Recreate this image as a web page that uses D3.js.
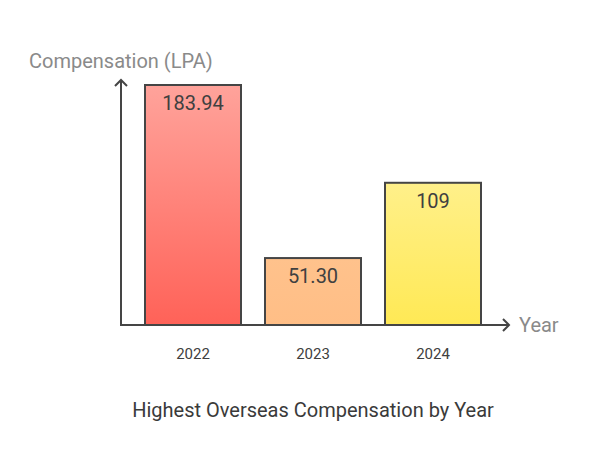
<!DOCTYPE html>
<html><head><meta charset="utf-8">
<script src="https://cdn.jsdelivr.net/npm/d3@7"></script>
<style>body{margin:0;background:#fff;font-family:Roboto,"Noto Sans",sans-serif}</style>
</head><body><svg id="c" width="590" height="470"></svg>
<script>
const years = ["2022","2023","2024"];
const values = [183.94, 51.30, 109];
const valueLabels = ["183.94","51.30","109"];
const topColors = ["#ffa39b","#ffc28c","#fff08a"];
const bottomColors = ["#ff6258","#ffbe86","#ffe955"];

const svg = d3.select("#c");
const x0 = 121, y0 = 325;
const x = d3.scaleBand().domain(years).range([133, 493]).paddingInner(0.2).paddingOuter(0.1);
const y = d3.scaleLinear().domain([0, 183.94]).range([y0, 85]);

const defs = svg.append("defs");
years.forEach((yr, i) => {
  const g = defs.append("linearGradient").attr("id", "g" + i).attr("x1", 0).attr("x2", 0).attr("y1", 0).attr("y2", 1);
  g.append("stop").attr("offset", "0%").attr("stop-color", topColors[i]);
  g.append("stop").attr("offset", "100%").attr("stop-color", bottomColors[i]);
});

svg.selectAll("rect.bar").data(values).enter().append("rect")
  .attr("class", "bar")
  .attr("x", (d, i) => x(years[i]))
  .attr("y", d => y(d))
  .attr("width", x.bandwidth())
  .attr("height", d => y0 - y(d))
  .attr("fill", (d, i) => `url(#g${i})`)
  .attr("stroke", "#454545").attr("stroke-width", 2);

svg.selectAll("text.val").data(values).enter().append("text")
  .attr("x", (d, i) => x(years[i]) + x.bandwidth() / 2)
  .attr("y", d => y(d) + 25)
  .attr("text-anchor", "middle")
  .attr("font-size", 20).attr("fill", "#404040")
  .text((d, i) => valueLabels[i]);

// axes
const axisColor = "#454545";
svg.append("line").attr("x1", x0).attr("y1", y0).attr("x2", x0).attr("y2", 80).attr("stroke", axisColor).attr("stroke-width", 2);
svg.append("path").attr("d", `M${x0-6},${86} L${x0},${80} L${x0+6},${86}`).attr("fill", "none").attr("stroke", axisColor).attr("stroke-width", 2);
svg.append("line").attr("x1", x0 - 1).attr("y1", y0).attr("x2", 509).attr("y2", y0).attr("stroke", axisColor).attr("stroke-width", 2);
svg.append("path").attr("d", `M${503},${y0-6} L${509},${y0} L${503},${y0+6}`).attr("fill", "none").attr("stroke", axisColor).attr("stroke-width", 2);

const xAxis = svg.append("g").attr("transform", `translate(0,${y0})`)
  .call(d3.axisBottom(x).tickSize(0).tickPadding(23));
xAxis.select(".domain").remove();
xAxis.selectAll("text").attr("font-size", 15).attr("fill", "#404040").attr("font-family", "Roboto, sans-serif");

svg.append("text").attr("x", 29).attr("y", 68).attr("font-size", 20).attr("fill", "#8a8a8a").text("Compensation (LPA)");
svg.append("text").attr("x", 519).attr("y", y0 + 7).attr("font-size", 20).attr("fill", "#8a8a8a").text("Year");
svg.append("text").attr("x", 313).attr("y", 417).attr("text-anchor", "middle").attr("font-size", 20).attr("fill", "#3a3a3a").text("Highest Overseas Compensation by Year");
</script></body></html>
